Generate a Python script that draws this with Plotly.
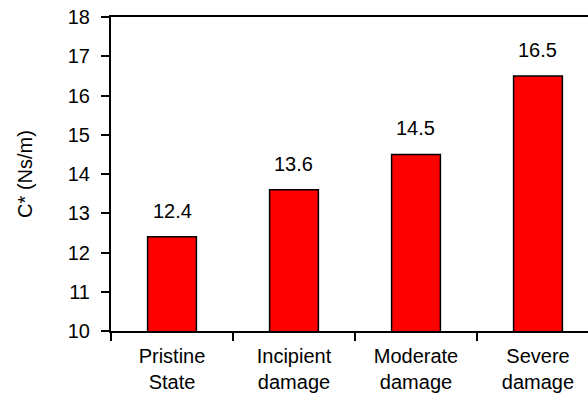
import plotly.graph_objects as go

# Damping coefficient for each structural condition
categories = ["Pristine<br>State", "Incipient<br>damage", "Moderate<br>damage", "Severe<br>damage"]
values = [12.4, 13.6, 14.5, 16.5]
value_labels = ["12.4", "13.6", "14.5", "16.5"]

FONT = "Liberation Sans, Arial, sans-serif"
FS = 20

fig = go.Figure()
fig.add_trace(go.Bar(
    x=categories,
    y=values,
    width=0.4,
    marker=dict(color="#ff0000", line=dict(color="black", width=1.5)),
    showlegend=False,
    hoverinfo="x+y",
))

for c, v, lbl in zip(categories, values, value_labels):
    fig.add_annotation(
        x=c, y=v, text=lbl, showarrow=False,
        yanchor="bottom", yshift=13,
        font=dict(family=FONT, size=FS, color="black"),
    )

fig.update_layout(
    width=588, height=404,
    margin=dict(l=111, r=0, t=17, b=73),
    paper_bgcolor="white", plot_bgcolor="white",
    font=dict(family=FONT, size=FS, color="black"),
)

fig.update_xaxes(
    type="category",
    range=[-0.5, 3.41],
    showgrid=False,
    showline=True, linecolor="black", linewidth=2,
    mirror=True,
    ticks="outside", tickson="boundaries", ticklen=8, tickwidth=2, tickcolor="black",
    ticklabelstandoff=6,
    tickfont=dict(family=FONT, size=FS, color="black"),
)

fig.update_yaxes(
    range=[10, 18], dtick=1,
    showgrid=False, zeroline=False,
    showline=True, linecolor="black", linewidth=2,
    ticks="outside", ticklen=8, tickwidth=2, tickcolor="black",
    ticklabelstandoff=7,
    tickfont=dict(family=FONT, size=FS, color="black"),
    title=dict(text="C* (Ns/m)", font=dict(family=FONT, size=FS, color="black"), standoff=30),
)

fig.write_html("out.html")
